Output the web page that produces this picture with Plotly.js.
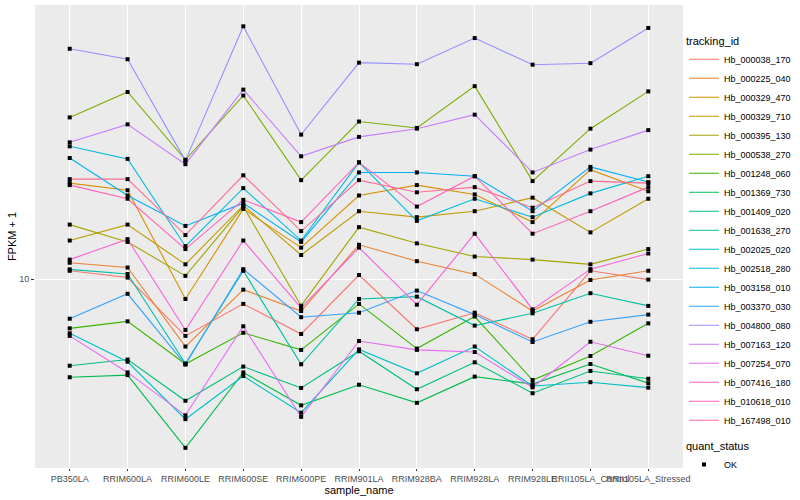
<!DOCTYPE html>
<html><head><meta charset="utf-8">
<script src="https://cdn.plot.ly/plotly-3.0.1.min.js"></script>
<style>html,body{margin:0;padding:0;background:#fff}#chart{width:800px;height:500px}</style>
</head><body><div id="chart"></div>
<script>
const categories = ["PB350LA","RRIM600LA","RRIM600LE","RRIM600SE","RRIM600PE","RRIM901LA","RRIM928BA","RRIM928LA","RRIM928LE","RRII105LA_Control","RRII105LA_Stressed"];

const trackingIds = ["Hb_000038_170","Hb_000225_040","Hb_000329_470","Hb_000329_710","Hb_000395_130","Hb_000538_270","Hb_001248_060","Hb_001369_730","Hb_001409_020","Hb_001638_270","Hb_002025_020","Hb_002518_280","Hb_003158_010","Hb_003370_030","Hb_004800_080","Hb_007163_120","Hb_007254_070","Hb_007416_180","Hb_010618_010","Hb_167498_010"];

const Hb_000038_170 = [10.5, 10.1, 7.22, 8.68, 7.30, 10.25, 7.50, 8.25, 7.08, 10.5, 9.98];
const Hb_000225_040 = [11.0, 10.7, 6.79, 9.42, 8.33, 12.2, 11.1, 10.3, 8.33, 9.96, 10.5];
const Hb_000329_470 = [17.4, 16.7, 8.93, 15.0, 12.0, 16.2, 17.2, 16.3, 13.9, 18.8, 16.6];
const Hb_000329_710 = [12.5, 13.7, 10.9, 15.3, 11.5, 14.8, 14.3, 14.8, 16.0, 13.1, 15.9];
const Hb_000395_130 = [13.7, 12.4, 10.2, 15.2, 8.59, 13.5, 12.3, 11.4, 11.2, 10.9, 11.9];
const Hb_000538_270 = [25.4, 29.4, 19.9, 28.8, 17.7, 24.8, 23.9, 30.4, 17.6, 23.8, 29.5];
const Hb_001248_060 = [7.54, 7.85, 6.14, 7.35, 6.66, 8.68, 6.71, 8.07, 5.60, 6.43, 7.76];
const Hb_001369_730 = [5.69, 5.76, 3.79, 5.85, 4.84, 5.45, 4.91, 5.71, 5.47, 6.14, 5.50];
const Hb_001409_020 = [6.08, 6.30, 4.97, 6.05, 5.35, 6.61, 5.31, 6.20, 5.19, 5.90, 5.64];
const Hb_001638_270 = [10.59, 10.31, 6.16, 10.5, 6.13, 8.93, 9.05, 7.66, 8.22, 9.23, 8.58];
const Hb_002025_020 = [7.33, 6.22, 4.47, 5.73, 4.64, 6.68, 5.82, 6.79, 5.41, 5.53, 5.36];
const Hb_002518_280 = [21.5, 20.0, 12.1, 16.9, 12.5, 19.6, 14.0, 15.9, 14.3, 16.4, 18.1];
const Hb_003158_010 = [20.1, 16.2, 13.6, 15.5, 12.4, 18.5, 18.5, 18.1, 14.8, 19.1, 17.5];
const Hb_003370_030 = [7.97, 9.20, 6.12, 10.6, 8.04, 8.25, 9.37, 8.16, 6.97, 7.83, 8.16];
const Hb_004800_080 = [37.7, 35.5, 19.8, 42.9, 23.0, 34.8, 34.5, 40.1, 34.4, 34.7, 42.5];
const Hb_007163_120 = [22.0, 24.4, 19.4, 29.8, 20.3, 22.7, 23.8, 25.8, 18.5, 21.1, 23.6];
const Hb_007254_070 = [7.22, 5.85, 4.57, 7.63, 4.53, 7.01, 6.66, 6.58, 5.37, 6.98, 6.44];
const Hb_007416_180 = [11.2, 12.6, 7.47, 12.5, 8.48, 12.0, 8.64, 13.0, 8.41, 10.6, 11.6];
const Hb_010618_010 = [17.2, 15.9, 11.9, 15.8, 13.9, 19.6, 15.2, 18.1, 13.0, 14.8, 17.0];
const Hb_167498_010 = [17.8, 17.8, 12.9, 18.2, 13.2, 17.7, 16.5, 17.0, 15.1, 17.6, 17.4];

const seriesValues = [Hb_000038_170, Hb_000225_040, Hb_000329_470, Hb_000329_710, Hb_000395_130, Hb_000538_270, Hb_001248_060, Hb_001369_730, Hb_001409_020, Hb_001638_270, Hb_002025_020, Hb_002518_280, Hb_003158_010, Hb_003370_030, Hb_004800_080, Hb_007163_120, Hb_007254_070, Hb_007416_180, Hb_010618_010, Hb_167498_010];

const statusLabel = "OK";

// ggplot2 default hue palette for 20 levels (style)
const palette = ["#F8766D","#EA8331","#D89000","#C09B00","#A3A500","#7CAE00","#39B600","#00BB4E","#00BF7D","#00C1A3","#00BFC4","#00BAE0","#00B0F6","#35A2FF","#9590FF","#C77CFF","#E76BF3","#FA62DB","#FF62BC","#FF6C91"];

const traces = seriesValues.map((vals, i) => ({
  type: 'scatter', mode: 'lines', x: categories, y: vals, name: trackingIds[i],
  line: {color: palette[i], width: 1.1}, legend: 'legend', hoverinfo: 'skip'
}));

const allX = [], allY = [];
seriesValues.forEach(vals => vals.forEach((v, j) => { allX.push(categories[j]); allY.push(v); }));
traces.push({
  type: 'scatter', mode: 'markers', x: allX, y: allY, name: statusLabel,
  marker: {symbol: 'square', size: 4, color: '#000'}, legend: 'legend2', hoverinfo: 'skip'
});

const layout = {
  width: 800, height: 500,
  margin: {l: 35, r: 116, t: 5, b: 32},
  paper_bgcolor: '#FFFFFF', plot_bgcolor: '#EBEBEB',
  font: {family: 'Liberation Sans, Arial, sans-serif', size: 9, color: '#4D4D4D'},
  xaxis: {
    type: 'category', categoryorder: 'array', categoryarray: categories, range: [-0.6, 10.6],
    showgrid: true, gridcolor: '#FFFFFF', gridwidth: 1, tickangle: 0,
    ticks: 'outside', ticklen: 2, tickcolor: '#333333', tickfont: {size: 9, color: '#4D4D4D'},
    title: {text: 'sample_name', font: {size: 11, color: '#000'}, standoff: 0},
    zeroline: false, showline: false
  },
  yaxis: {
    type: 'log', range: [0.5282, 1.6858], tickvals: [10], ticktext: ['10'],
    showgrid: true, gridcolor: '#FFFFFF', gridwidth: 1,
    ticks: 'outside', ticklen: 3, tickcolor: '#333333', tickfont: {size: 9, color: '#4D4D4D'},
    title: {text: 'FPKM + 1', font: {size: 11, color: '#000'}, standoff: 0},
    zeroline: false, showline: false
  },
  showlegend: true,
  legend: {
    x: 1.0, xanchor: 'left', y: 0.945, yanchor: 'top',
    title: {text: 'tracking_id', font: {size: 11, color: '#000'}},
    font: {size: 9, color: '#000'}, bgcolor: 'rgba(0,0,0,0)', tracegroupgap: 0
  },
  legend2: {
    x: 1.0, xanchor: 'left', y: 0.07, yanchor: 'top',
    title: {text: 'quant_status', font: {size: 11, color: '#000'}},
    font: {size: 9, color: '#000'}, bgcolor: 'rgba(0,0,0,0)'
  }
};

Plotly.newPlot('chart', traces, layout, {staticPlot: true, displayModeBar: false});
</script>
</body></html>
